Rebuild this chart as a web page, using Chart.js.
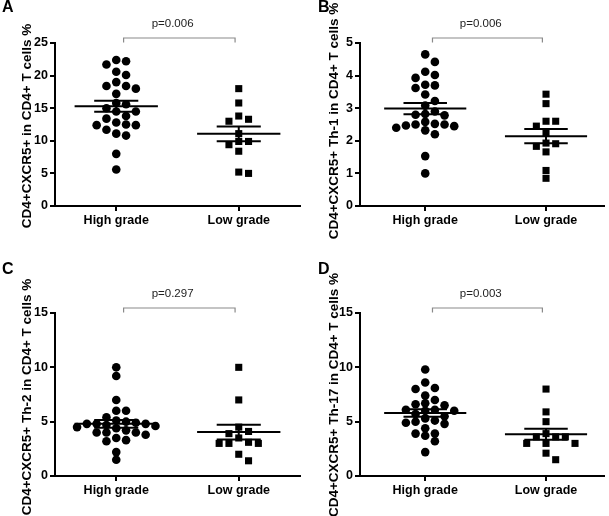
<!DOCTYPE html>
<html><head><meta charset="utf-8">
<script src="https://cdn.jsdelivr.net/npm/chart.js@4.4.1/dist/chart.umd.min.js"></script>
<style>
html,body{margin:0;padding:0;background:#fff;width:609px;height:516px;overflow:hidden}
canvas{position:absolute;display:block}
</style></head><body>
<canvas id="cA" width="305" height="258" style="left:0;top:0"></canvas>
<canvas id="cB" width="304" height="258" style="left:305px;top:0"></canvas>
<canvas id="cC" width="305" height="258" style="left:0;top:258px"></canvas>
<canvas id="cD" width="304" height="258" style="left:305px;top:258px"></canvas>
<script>
// ---------- data ----------
const groups = ['High grade', 'Low grade'];

const highA = [22.4, 22.2, 21.7, 20.6, 20.1, 19.0, 18.4, 18.4, 18.0, 17.2, 15.8, 15.6, 15.0, 14.5, 14.5, 13.8, 13.4, 12.8, 12.5, 12.4, 12.4, 11.7, 11.1, 10.8, 8.0, 5.6];
const lowA  = [18.0, 15.8, 13.8, 13.3, 13.0, 11.1, 9.9, 9.9, 9.4, 8.4, 5.2, 5.0];

const highB = [4.65, 4.42, 4.12, 4.02, 3.93, 3.72, 3.70, 3.62, 3.42, 3.22, 3.08, 2.90, 2.82, 2.80, 2.78, 2.58, 2.52, 2.50, 2.50, 2.47, 2.45, 2.40, 2.32, 2.20, 1.53, 1.00];
const lowB  = [3.43, 3.14, 2.60, 2.60, 2.45, 2.23, 1.93, 1.91, 1.83, 1.66, 1.09, 0.85];

const highC = [10.0, 9.2, 7.0, 6.0, 6.0, 5.4, 5.1, 5.0, 4.9, 4.8, 4.8, 4.8, 4.7, 4.6, 4.5, 4.4, 4.2, 4.0, 4.0, 4.0, 3.8, 3.5, 3.3, 3.2, 2.2, 1.5];
const lowC  = [10.0, 7.0, 4.5, 4.1, 3.9, 3.5, 3.1, 3.0, 3.0, 3.0, 2.0, 1.4];

const highD = [9.8, 8.6, 8.1, 8.0, 7.4, 7.0, 6.7, 6.6, 6.5, 6.1, 6.1, 6.0, 6.0, 5.7, 5.5, 5.3, 5.1, 5.0, 4.9, 4.8, 4.4, 3.9, 3.9, 3.7, 3.2, 2.2];
const lowD  = [8.0, 5.9, 5.0, 3.9, 3.6, 3.6, 3.6, 3.0, 3.0, 3.0, 2.1, 1.5];

const yTicksA = [0, 5, 10, 15, 20, 25];
const yTicksB = [0, 1, 2, 3, 4, 5];
const yTicksC = [0, 5, 10, 15];
const yTicksD = [0, 5, 10, 15];

const yTitleA = 'CD4+CXCR5+ in CD4+ T cells %';
const yTitleB = 'CD4+CXCR5+ Th-1 in CD4+ T cells %';
const yTitleC = 'CD4+CXCR5+ Th-2 in CD4+ T cells %';
const yTitleD = 'CD4+CXCR5+ Th-17 in CD4+ T cells %';

const pTextA = 'p=0.006';
const pTextB = 'p=0.006';
const pTextC = 'p=0.297';
const pTextD = 'p=0.003';

// ---------- layout / style ----------
const FONT = '"Liberation Sans", Arial, Helvetica, sans-serif';
const PLOT_H = 163;
const SLOT = 0.08;        // horizontal spacing of swarm columns (x units)
const MEAN_HALF = 0.34;
const SEM_HALF = 0.18;

function swarm(values, center, yRange) {
  const thresh = yRange * 7.5 / PLOT_H;
  const placed = [];
  return values.map(v => {
    for (let k = 0; ; k++) {
      const slot = k === 0 ? 0 : (k % 2 ? (k + 1) / 2 : -k / 2);
      if (!placed.some(p => p.slot === slot && Math.abs(p.y - v) < thresh)) {
        placed.push({ y: v, slot });
        return { x: center + slot * SLOT, y: v };
      }
    }
  });
}

function stats(arr) {
  const n = arr.length;
  const m = arr.reduce((a, b) => a + b, 0) / n;
  const sd = Math.sqrt(arr.reduce((a, b) => a + (b - m) * (b - m), 0) / (n - 1));
  return { m, sem: sd / Math.sqrt(n) };
}

function lineSet(pts) {
  return { data: pts, showLine: true, pointRadius: 0, borderColor: '#000', borderWidth: 2, fill: false, order: 0 };
}

function errorSets(arr, c) {
  const { m, sem } = stats(arr);
  return [
    lineSet([{ x: c - MEAN_HALF, y: m }, { x: c + MEAN_HALF, y: m }]),
    lineSet([{ x: c - SEM_HALF, y: m + sem }, { x: c + SEM_HALF, y: m + sem }]),
    lineSet([{ x: c - SEM_HALF, y: m - sem }, { x: c + SEM_HALF, y: m - sem }]),
    lineSet([{ x: c, y: m - sem }, { x: c, y: m + sem }])
  ];
}

const annot = {
  id: 'annot',
  afterDraw(chart) {
    const o = chart.options.plugins.annot;
    const ctx = chart.ctx;
    const xs = chart.scales.x;
    const top = chart.chartArea.top;
    ctx.save();
    // panel letter
    ctx.fillStyle = '#000';
    ctx.font = 'bold 16px ' + FONT;
    ctx.textAlign = 'left';
    ctx.textBaseline = 'middle';
    ctx.fillText(o.letter, o.letterX, o.letterY);
    // bracket
    const x1 = xs.getPixelForValue(1.06), x2 = xs.getPixelForValue(1.97);
    const by = top - 5;
    ctx.strokeStyle = '#8a8a8a';
    ctx.lineWidth = 1.2;
    ctx.beginPath();
    ctx.moveTo(x1, by + 4.5); ctx.lineTo(x1, by); ctx.lineTo(x2, by); ctx.lineTo(x2, by + 4.5);
    ctx.stroke();
    // p value
    ctx.fillStyle = '#222';
    ctx.font = '11.5px ' + FONT;
    ctx.textAlign = 'center';
    ctx.fillText(o.pText, xs.getPixelForValue(1.46), top - 19);
    // y title
    ctx.translate(o.titleX, o.titleY);
    ctx.rotate(-Math.PI / 2);
    ctx.fillStyle = '#000';
    ctx.font = 'bold 13.5px ' + FONT;
    ctx.fillText(o.yTitle, 0, 0);
    ctx.restore();
  }
};

function makePanel(id, L, high, low, yTicks, yTitle, pText) {
  const yMax = yTicks[yTicks.length - 1], yMin = yTicks[0];
  const canvas = document.getElementById(id);
  const W = canvas.width, H = canvas.height;
  const datasets = [
    ...errorSets(high, 1),
    ...errorSets(low, 2),
    { data: swarm(high, 1, yMax - yMin), pointStyle: 'circle', pointRadius: 4.3, backgroundColor: '#000', borderWidth: 0, order: 1 },
    { data: swarm(low, 2, yMax - yMin), pointStyle: 'rect', pointRadius: 5, backgroundColor: '#000', borderWidth: 0, order: 1 }
  ];
  return new Chart(canvas, {
    type: 'scatter',
    data: { datasets },
    plugins: [annot],
    options: {
      responsive: false,
      devicePixelRatio: 1,
      animation: false,
      events: [],
      layout: { padding: { left: 0, right: W - 300, top: L.areaTop, bottom: 0 } },
      plugins: {
        legend: { display: false },
        tooltip: { enabled: false },
        annot: { letter: L.letter, letterX: L.letterX, letterY: L.letterY, titleX: L.titleX, titleY: L.titleY, yTitle, pText }
      },
      scales: {
        x: {
          type: 'linear', min: L.xMin, max: L.xMax,
          afterBuildTicks: s => { s.ticks = [{ value: 1 }, { value: 2 }]; },
          afterFit: s => { s.height = H - L.areaBottom; },
          ticks: { callback: v => groups[v - 1], autoSkip: false, maxRotation: 0, padding: 2, color: '#000', font: { family: FONT, size: 12.5, weight: 'bold' } },
          grid: { drawOnChartArea: false, drawTicks: true, tickLength: 5, color: '#000', lineWidth: 2 },
          border: { display: true, color: '#000', width: 2 }
        },
        y: {
          type: 'linear', min: yMin, max: yMax,
          afterBuildTicks: s => { s.ticks = yTicks.map(v => ({ value: v })); },
          afterFit: s => { s.width = 55; },
          ticks: { callback: v => String(v), padding: 2, color: '#000', font: { family: FONT, size: 12.5, weight: 'bold' } },
          grid: { drawOnChartArea: false, drawTicks: true, tickLength: 5, color: '#000', lineWidth: 2 },
          border: { display: true, color: '#000', width: 2 }
        }
      }
    }
  });
}

makePanel('cA', { letter: 'A', areaTop: 43, areaBottom: 206, xMin: 0.5, xMax: 2.5, letterX: 2, letterY: 8, titleX: 27, titleY: 126 }, highA, lowA, yTicksA, yTitleA, pTextA);
makePanel('cB', { letter: 'B', areaTop: 43, areaBottom: 206, xMin: 0.46, xMax: 2.48, letterX: 13, letterY: 8, titleX: 29.5, titleY: 121 }, highB, lowB, yTicksB, yTitleB, pTextB);
makePanel('cC', { letter: 'C', areaTop: 55, areaBottom: 218, xMin: 0.5, xMax: 2.5, letterX: 2, letterY: 12, titleX: 27, titleY: 139 }, highC, lowC, yTicksC, yTitleC, pTextC);
makePanel('cD', { letter: 'D', areaTop: 55, areaBottom: 218, xMin: 0.46, xMax: 2.48, letterX: 13, letterY: 12, titleX: 29.5, titleY: 137 }, highD, lowD, yTicksD, yTitleD, pTextD);
</script>
</body></html>
